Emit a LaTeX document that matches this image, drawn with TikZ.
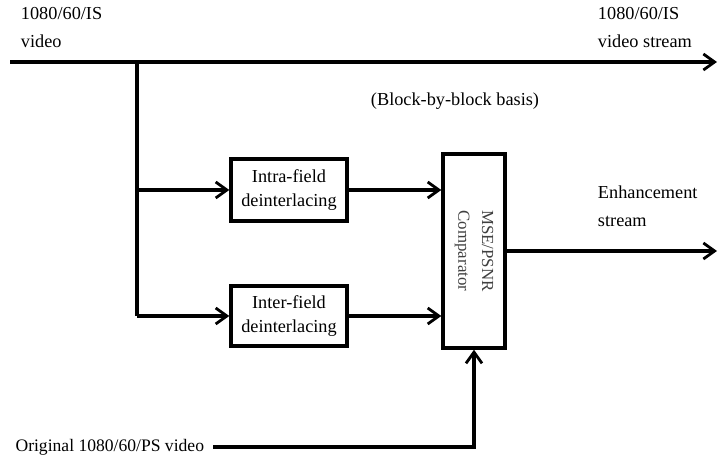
\documentclass[tikz,border=0pt]{standalone}
\usepackage{fontspec}
\setmainfont{Liberation Serif}
\usetikzlibrary{arrows.meta}

\begin{document}
\begin{tikzpicture}[x=0.025cm, y=-0.025cm, line width=2.8pt,
    box/.style={draw, rectangle, line width=2.4pt, align=center, inner sep=0pt},
    flow/.style={-{Straight Barb[length=2.8mm, width=4mm, line width=2pt]}},
    lbl/.style={align=left, font=\fontsize{13}{20}\selectfont, inner sep=0pt}]
      \useasboundingbox (0,0) rectangle (719,464);

      % Define coordinates
      \coordinate (in) at (10,62);
      \coordinate (out) at (717,62);
      \coordinate (split) at (137,62);
      \coordinate (enh_end) at (717,251);

      % Blocks
      \node[box, minimum width=2.9cm, minimum height=1.55cm, font=\fontsize{13}{17}\selectfont]
          (intra) at (289,190) {Intra-field\\deinterlacing};
      \node[box, minimum width=2.9cm, minimum height=1.5cm, font=\fontsize{13}{17}\selectfont]
          (inter) at (289,316) {Inter-field\\deinterlacing};
      \node[box, minimum width=1.55cm, minimum height=4.85cm] (cmp) at (474,251) {};
      \node[rotate=-90, align=center, font=\fontsize{12}{17}\selectfont, text=black!75]
          at (cmp.center) {MSE/PSNR\\Comparator};

      % Labels
      \node[lbl, anchor=north west] (in_lbl) at (19,5) {1080/60/IS\\video};
      \node[lbl, anchor=north west] (out_lbl) at (596,5) {1080/60/IS\\video stream};
      \node[lbl, anchor=north west] (enh_lbl) at (596,184) {Enhancement\\stream};
      \node[lbl, anchor=center] (basis) at (455,101) {(Block-by-block basis)};
      \node[lbl, font=\fontsize{12.5}{20}\selectfont, anchor=east] (orig) at (206,447) {Original 1080/60/PS video};

      % Main video line and branches
      \draw[flow] (in) -- (out);
      \draw (split) -- (split |- inter.west);
      \draw[flow] (split |- intra.west) -- (intra.west);
      \draw[flow] (split |- inter.west) -- (inter.west);

      % Into the comparator
      \draw[flow] (intra.east) -- (intra.east -| cmp.west);
      \draw[flow] (inter.east) -- (inter.east -| cmp.west);
      \draw[flow] ([xshift=5pt]orig.east) -| (cmp.south);

      % Enhancement output
      \draw[flow] (cmp.east |- enh_end) -- (enh_end);
    \end{tikzpicture}
\end{document}
